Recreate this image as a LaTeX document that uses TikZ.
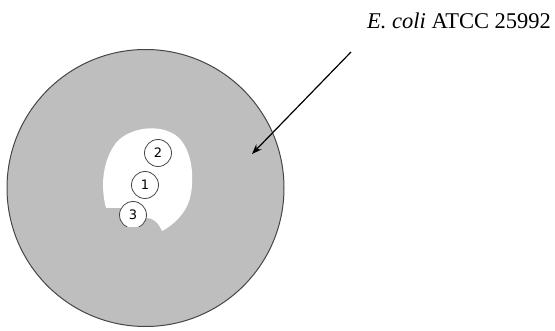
\documentclass[tikz,border=0pt]{standalone}
\usepackage{fontspec}
\setmainfont{Liberation Serif}
\newfontfamily\numfont{DejaVu Sans}
\usetikzlibrary{arrows.meta}
\definecolor{plategray}{RGB}{190,190,190}
\definecolor{edgegray}{RGB}{70,70,70}
\tikzset{
  colony/.style={circle,draw=edgegray,line width=0.8pt,fill=white,minimum size=27pt,inner sep=0pt,font=\numfont\fontsize{13}{13}\selectfont},
  platestyle/.style={circle,draw=edgegray,line width=1pt,fill=plategray,minimum size=277pt,inner sep=0pt},
  pointer/.style={line width=1.2pt,-{Stealth[length=10pt,width=7.5pt]}}
}
\begin{document}
\begin{tikzpicture}[x=1pt,y=-1pt]
\useasboundingbox (0,0) rectangle (555,331);
\node[platestyle] (plate) at (145.5,188) {};
% clear zone
\fill[white] (106,208) .. controls (100,185) and (103,160) .. (116,143)
  .. controls (128,128) and (160,122) .. (178,137)
  .. controls (192,150) and (195,178) .. (190,198)
  .. controls (186,214) and (172,226) .. (162,231)
  .. controls (158,222) and (153,218) .. (147,218)
  -- (120,208) -- cycle;
\begin{scope}
\clip (100,120) rectangle (200,227);
\node[colony] (c3) at (133,215) {3};
\end{scope}
\node[colony] (c1) at (145,185) {1};
\node[colony] (c2) at (158,153) {2};
\node[font=\fontsize{22.5}{22.5}\selectfont,anchor=base west,inner sep=0pt] (label) at (367,28.5) {\textit{E. coli} ATCC 25992};
\coordinate (arrowstart) at (351,52);
\coordinate (arrowtip) at (252,154);
\draw[pointer] (arrowstart) -- (arrowtip);
\end{tikzpicture}
\end{document}
